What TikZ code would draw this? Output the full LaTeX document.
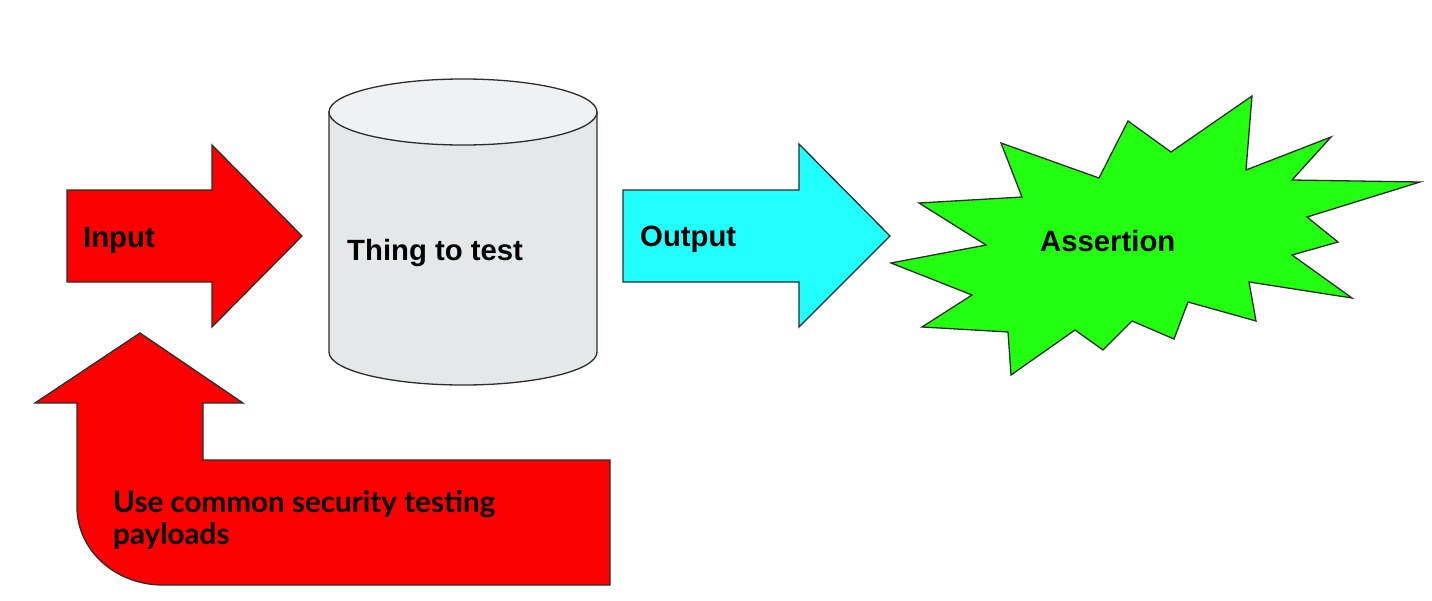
\documentclass[tikz,border=0pt]{standalone}
\usepackage{fontspec}
\setmainfont{Liberation Sans}
\newfontfamily\latofont{Lato}
\definecolor{arrowred}{RGB}{250,0,0}
\definecolor{outcyan}{RGB}{34,255,255}
\definecolor{stargreen}{RGB}{34,255,17}
\definecolor{cylbody}{RGB}{228,232,232}
\definecolor{cyltop}{RGB}{240,241,242}
\definecolor{edge}{RGB}{45,45,45}
\tikzset{
  shapeline/.style={draw=edge, line width=1.3pt, line join=miter},
  boldlabel/.style={inner sep=0pt, anchor=base west, font=\fontsize{29.3}{35}\selectfont\bfseries},
  latolabel/.style={inner sep=0pt, anchor=base west, align=left, font=\latofont\fontsize{29.6}{32}\selectfont\bfseries}
}
\begin{document}
\begin{tikzpicture}[x=1pt,y=-1pt]
\useasboundingbox (0,0) rectangle (1432,600);
% Input arrow
\draw[shapeline, fill=arrowred] (67,190) -- (212,190) -- (212,145) -- (302,236) -- (212,327) -- (212,282) -- (67,282) -- cycle;
% Output arrow
\draw[shapeline, fill=outcyan] (623,190) -- (799,190) -- (799,144) -- (890,236) -- (799,327) -- (799,282) -- (623,282) -- cycle;
% Cylinder
\draw[shapeline, fill=cylbody] (329,112) -- (329,352) arc[start angle=180, end angle=0, x radius=134, y radius=33] -- (597,112) -- cycle;
\draw[shapeline, fill=cyltop] (463,112) ellipse[x radius=134, y radius=33];
% Bent arrow
\draw[shapeline, fill=arrowred] (140,333) -- (243,403) -- (203,403) -- (203,460) -- (610,460) -- (610,585) -- (163,585)
  .. controls (115,585) and (77,550) .. (77,507) -- (77,403) -- (35,403) -- cycle;
% Star
\draw[shapeline, fill=stargreen] (919,203) -- (1022,197) -- (1001,143) -- (1099,178) -- (1128,121) -- (1171,152) -- (1252,96) -- (1246,170) -- (1331,137) -- (1292,180) -- (1420,182) -- (1307,217) -- (1338,242) -- (1292,255) -- (1352,298) -- (1249,282) -- (1256,321) -- (1188,302) -- (1174,339) -- (1132,321) -- (1103,350) -- (1075,330) -- (1011,375) -- (1008,332) -- (922,327) -- (972,295) -- (891,263) -- (986,245) -- cycle;
% Labels
\node[boldlabel] (input) at (83,247) {Input};
\node[boldlabel] (thing) at (347,260) {Thing to test};
\node[boldlabel] (output) at (640,246) {Output};
\node[boldlabel] (assert) at (1040,251) {Assertion};
\node[latolabel] (payload) at (113,544) {Use common security testing\\payloads};
\end{tikzpicture}
\end{document}
